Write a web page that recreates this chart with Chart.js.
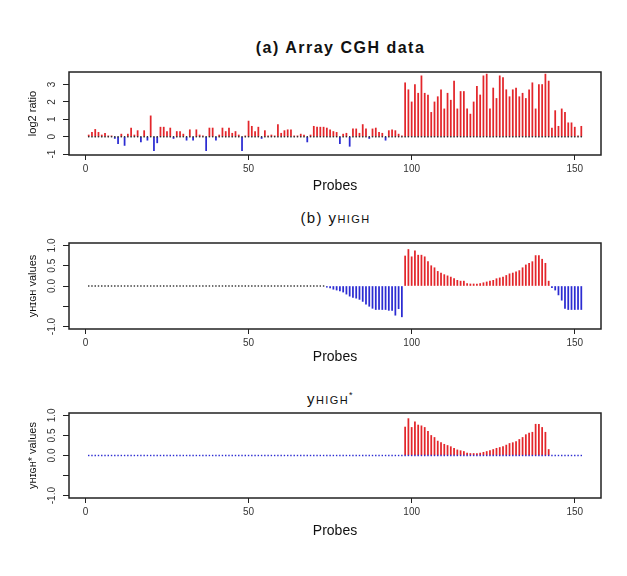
<!DOCTYPE html>
<html>
<head>
<meta charset="utf-8">
<script src="https://cdn.jsdelivr.net/npm/chart.js@4.4.1/dist/chart.umd.min.js"></script>
<style>
  body { margin: 0; background: #fff; }
  #wrap { position: relative; width: 627px; height: 576px; font-family: "Liberation Sans", Arial, sans-serif; color: #111; }
  canvas { position: absolute; left: 0; }
  .ttl { position: absolute; width: 627px; text-align: center; line-height: 18px; }
  .sc { font-variant: small-caps; }
</style>
</head>
<body>
<div id="wrap">
  <div class="ttl" style="left:27px;top:39px;font-weight:bold;font-size:16px;letter-spacing:1.5px">(a) Array CGH data</div>
  <canvas id="panelA" width="627" height="200" style="top:0"></canvas>
  <div class="ttl" style="left:22px;top:209px;font-size:15px;letter-spacing:1.4px">(b) y<span class="sc">high</span></div>
  <canvas id="panelB" width="627" height="175" style="top:200px"></canvas>
  <div class="ttl" style="left:17px;top:386px;font-size:15px;letter-spacing:1.4px">y<span class="sc">high</span><sup style="font-size:9px">*</sup></div>
  <canvas id="panelC" width="627" height="201" style="top:375px"></canvas>
</div>
<script>
// probe index 1..152
const probes = Array.from({ length: 152 }, (_, i) => i + 1);

// (a) log2 ratio per probe
const log2Ratio = [
  0.1, 0.25, 0.42, 0.25, 0.1, 0.2, 0.05, 0.05, -0.1, -0.4,
  0.15, -0.5, 0.15, 0.5, 0.1, 0.35, -0.3, 0.35, -0.2, 1.2,
  -0.8, -0.35, 0.55, 0.55, 0.3, 0.5, -0.1, 0.3, 0.3, 0.15,
  -0.2, 0.4, -0.2, 0.4, 0.1, 0.05, -0.8, 0.5, 0.5, -0.2,
  0.1, 0.5, 0.3, 0.5, 0.2, 0.3, 0.1, -0.8, 0.05, 0.9,
  0.6, 0.3, 0.55, -0.1, 0.35, 0.05, 0.1, 0.05, 0.7, 0.2,
  0.35, 0.4, 0.4, 0.05, 0.05, 0.15, 0.1, -0.3, 0.1, 0.6,
  0.55, 0.55, 0.55, 0.5, 0.4, 0.3, 0.25, -0.4, 0.15, 0.2,
  -0.55, 0.45, 0.45, 0.2, 0.7, 0.45, -0.1, 0.45, 0.5, 0.25,
  0.2, -0.2, 0.35, 0.4, 0.35, 0.15, 0.05,
  3.1, 2.7, 2.0, 3.0, 2.5, 3.5, 2.5, 2.4, 1.4, 2.0,
  2.3, 2.7, 1.6, 2.5, 2.1, 3.2, 1.6, 2.6, 2.6, 1.6,
  1.3, 2.0, 2.9, 2.4, 3.5, 3.6, 1.6, 2.8, 2.2, 3.5,
  3.4, 2.7, 2.3, 2.7, 2.8, 2.3, 2.5, 2.2, 2.7, 3.1,
  1.6, 3.0, 3.0, 3.6, 3.2, 0.5, 1.5, 0.6, 1.6, 1.4,
  0.8, 0.8, 0.55, 0.05, 0.6
];

// (b) yHIGH per probe
const yHigh = [
  0, 0, 0, 0, 0, 0, 0, 0, 0, 0,  0, 0, 0, 0, 0, 0, 0, 0, 0, 0,
  0, 0, 0, 0, 0, 0, 0, 0, 0, 0,  0, 0, 0, 0, 0, 0, 0, 0, 0, 0,
  0, 0, 0, 0, 0, 0, 0, 0, 0, 0,  0, 0, 0, 0, 0, 0, 0, 0, 0, 0,
  0, 0, 0, 0, 0, 0, 0, 0, 0, 0,  0, 0, 0,
  -0.03, -0.05, -0.08, -0.1, -0.12, -0.15, -0.2, -0.25, -0.28, -0.3,
  -0.33, -0.38, -0.45, -0.5, -0.55, -0.58, -0.58, -0.58, -0.58, -0.6,
  -0.6, -0.72, -0.56, -0.76,
  0.74, 0.9, 0.72, 0.87, 0.76, 0.76, 0.72, 0.6, 0.5, 0.45,
  0.36, 0.32, 0.28, 0.25, 0.22, 0.18, 0.14, 0.12, 0.12, 0.06,
  0.05, 0.05, 0.05, 0.06, 0.08, 0.1, 0.12, 0.14, 0.18, 0.2,
  0.22, 0.26, 0.3, 0.32, 0.35, 0.38, 0.45, 0.52, 0.56, 0.6,
  0.75, 0.75, 0.66, 0.56, 0.12,
  -0.04, -0.1, -0.22, -0.35, -0.55, -0.58, -0.58, -0.58, -0.58, -0.58
];

// (c) yHIGH* per probe
const yHighStar = [
  0, 0, 0, 0, 0, 0, 0, 0, 0, 0,  0, 0, 0, 0, 0, 0, 0, 0, 0, 0,
  0, 0, 0, 0, 0, 0, 0, 0, 0, 0,  0, 0, 0, 0, 0, 0, 0, 0, 0, 0,
  0, 0, 0, 0, 0, 0, 0, 0, 0, 0,  0, 0, 0, 0, 0, 0, 0, 0, 0, 0,
  0, 0, 0, 0, 0, 0, 0, 0, 0, 0,  0, 0, 0, 0, 0, 0, 0, 0, 0, 0,
  0, 0, 0, 0, 0, 0, 0, 0, 0, 0,  0, 0, 0, 0, 0, 0, 0,
  0.71, 0.92, 0.7, 0.84, 0.76, 0.74, 0.7, 0.6, 0.5, 0.45,
  0.36, 0.32, 0.28, 0.25, 0.22, 0.18, 0.14, 0.12, 0.1, 0.06,
  0.05, 0.05, 0.05, 0.06, 0.08, 0.1, 0.12, 0.15, 0.18, 0.2,
  0.22, 0.26, 0.3, 0.32, 0.35, 0.4, 0.45, 0.52, 0.56, 0.58,
  0.78, 0.78, 0.7, 0.58, 0.15,
  0, 0, 0, 0, 0, 0, 0, 0, 0, 0
];

const xTicks = [0, 50, 100, 150];
const yTicksA = [-1, 0, 1, 2, 3];
const yTickLabelsA = ['-1', '0', '1', '2', '3'];
const yTicksB = [-1, -0.5, 0, 0.5, 1];
const yTickLabelsB = ['-1.0', '', '0.0', '0.5', '1.0'];

const RED = '#e3262b';
const BLUE = '#2c2cd2';
const INK = '#222';

// box round the plot area and y tick labels written along the axis, like R
const rPlotBits = {
  id: 'rPlotBits',
  afterDraw(chart) {
    const { ctx, chartArea: a } = chart;
    const ys = chart.scales.y;
    ctx.save();
    ctx.strokeStyle = INK;
    ctx.lineWidth = 1.5;
    ctx.strokeRect(a.left, a.top, a.right - a.left, a.bottom - a.top);
    ctx.fillStyle = '#333';
    ctx.font = '10px "Liberation Sans", Arial, sans-serif';
    ctx.textAlign = 'center';
    ctx.textBaseline = 'middle';
    ys.ticks.forEach(t => {
      ctx.save();
      ctx.translate(52, ys.getPixelForValue(t.value));
      ctx.rotate(-Math.PI / 2);
      ctx.fillText(t.label, 0, 0);
      ctx.restore();
    });
    ctx.restore();
  }
};

function barColour(c) {
  if (!c.raw || c.raw.y === 0) return 'rgba(0,0,0,0)';
  return c.raw.y < 0 ? BLUE : RED;
}

function makePanel(id, p) {
  const cv = document.getElementById(id);
  const axisH = cv.height - p.top - p.boxH;
  const bars = probes.map((x, i) => ({ x: x, y: p.values[i] }));
  const dots = probes.filter((x, i) => p.dotAll || p.values[i] === 0).map(x => ({ x: x, y: 0 }));
  return new Chart(cv, {
    data: {
      datasets: [{
        type: 'scatter',
        data: dots,
        pointStyle: 'rect',
        pointRadius: 1,
        backgroundColor: p.dotColor,
        borderWidth: 0,
        order: 0
      }, {
        type: 'bar',
        data: bars,
        backgroundColor: barColour,
        barThickness: 1.1,
        order: 1
      }]
    },
    options: {
      responsive: false,
      animation: false,
      events: [],
      layout: { padding: { left: 0, right: 26, top: p.top, bottom: 0 } },
      plugins: { legend: { display: false }, tooltip: { enabled: false } },
      scales: {
        x: {
          type: 'linear',
          offset: false,
          min: -5.04,
          max: 158.04,
          afterBuildTicks: s => { s.ticks = xTicks.map(v => ({ value: v })); },
          afterFit: s => { s.height = axisH; },
          grid: { offset: false, drawOnChartArea: false, drawTicks: true, tickLength: 5, color: INK },
          border: { display: false },
          ticks: { color: '#333', font: { size: 10 }, padding: 3, maxRotation: 0 },
          title: {
            display: true,
            text: 'Probes',
            color: '#111',
            font: { size: 14 },
            padding: { top: 0, bottom: p.probesOff - 8.4 }
          }
        },
        y: {
          min: p.yMin,
          max: p.yMax,
          afterBuildTicks: s => { s.ticks = p.yTicks.map(v => ({ value: v })); },
          afterFit: s => { s.width = 69; },
          grid: { drawOnChartArea: false, drawTicks: true, tickLength: 6, color: INK },
          border: { display: false },
          ticks: {
            color: 'rgba(0,0,0,0)',
            font: { size: 10 },
            callback: (v, i) => p.yLabels[i]
          },
          title: {
            display: true,
            text: p.yTitle,
            color: '#111',
            font: { size: 11 },
            padding: { top: 26, bottom: 0 }
          }
        }
      }
    },
    plugins: [rPlotBits]
  });
}

makePanel('panelA', {
  values: log2Ratio, top: 72, boxH: 83, probesOff: 14,
  yMin: -1.05, yMax: 3.72, yTicks: yTicksA, yLabels: yTickLabelsA,
  yTitle: 'log2 ratio', dotColor: '#333', dotAll: true
});
makePanel('panelB', {
  values: yHigh, top: 43, boxH: 86, probesOff: 18,
  yMin: -1.06, yMax: 1.06, yTicks: yTicksB, yLabels: yTickLabelsB,
  yTitle: 'yʜɪɢʜ values', dotColor: '#333', dotAll: false
});
makePanel('panelC', {
  values: yHighStar, top: 38, boxH: 85, probesOff: 45,
  yMin: -1.06, yMax: 1.06, yTicks: yTicksB, yLabels: yTickLabelsB,
  yTitle: 'yʜɪɢʜ* values', dotColor: BLUE, dotAll: true
});
</script>
</body>
</html>
